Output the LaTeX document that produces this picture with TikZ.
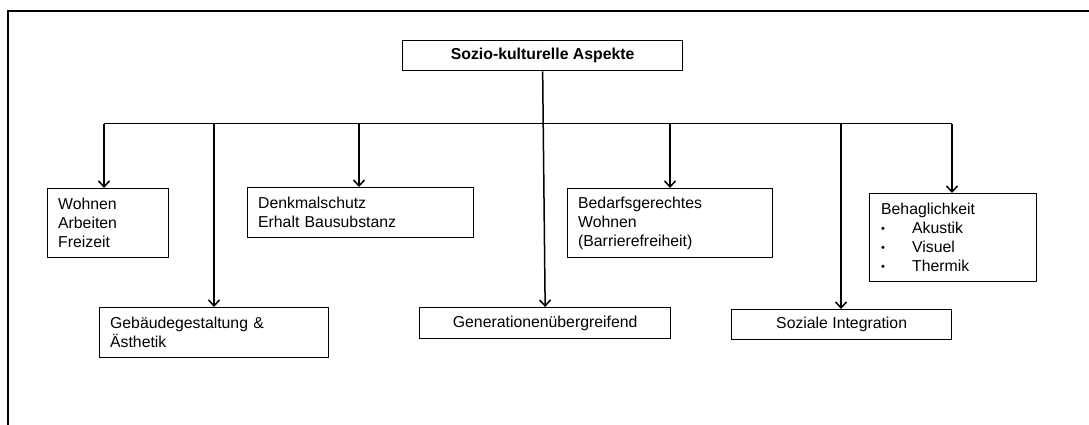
\documentclass[tikz,border=0pt]{standalone}
\usepackage{fontspec}
\setmainfont{Liberation Sans}
\usetikzlibrary{arrows.meta}
\newcommand{\mybul}{\makebox[31pt][l]{\raisebox{1.5pt}{\scalebox{0.7}{\textbullet}}}}
\begin{document}
\begin{tikzpicture}[x=1pt,y=-1pt,
  box/.style={draw, line width=1.3pt, anchor=north west, inner xsep=10.5pt, inner ysep=0pt,
    font=\fontsize{15.8}{19}\selectfont},
  arr/.style={line width=1.5pt, -{Straight Barb[length=6pt,width=11pt,line width=1.5pt]}},
  bus/.style={line width=1pt}]
\useasboundingbox (0,0) rectangle (1089,425);
% frame
\coordinate (f1) at (8,425);
\coordinate (f2) at (8,11);
\coordinate (f3) at (1089,11);
\draw[line width=1.5pt] (f1) -- (f2) -- (f3);
% nodes
\node[box, minimum width=280pt, minimum height=30pt, align=center, font=\fontsize{15.8}{19}\selectfont\bfseries] (top) at (402,40) {Sozio-kulturelle Aspekte};
\node[box, minimum width=121pt, minimum height=69pt, text width=100pt, align=left] (wohnen) at (47,188) {Wohnen\\Arbeiten\\Freizeit};
\node[box, minimum width=226pt, minimum height=50pt, text width=205pt, align=left] (denkmal) at (247,187) {Denkmalschutz\\Erhalt Bausubstanz};
\node[box, minimum width=205pt, minimum height=69pt, text width=184pt, align=left] (bedarf) at (567,188) {Bedarfsgerechtes\\Wohnen\\(Barrierefreiheit)};
\node[box, minimum width=167pt, minimum height=88pt, inner xsep=11.5pt, text width=144pt, align=left] (behag) at (869,193) {Behaglichkeit\\\mybul Akustik\\\mybul Visuel\\\mybul Thermik};
\node[box, minimum width=229pt, minimum height=50pt, text width=208pt, align=left] (gebaeude) at (99,307) {Gebäudegestaltung \&\\Ästhetik};
\node[box, minimum width=251pt, minimum height=31pt, align=center] (gen) at (419,307) {Generationenübergreifend};
\node[box, minimum width=220pt, minimum height=30pt, align=center] (sozial) at (731,309) {Soziale Integration};
% bus
\coordinate (b1) at (104,124);
\coordinate (b2) at (214,124);
\coordinate (b3) at (359,124);
\coordinate (b4) at (670,124);
\coordinate (b5) at (841,124);
\coordinate (b6) at (952,124);
\draw[bus] (b1) -- (b6);
\draw[arr] (b1) -- (b1 |- wohnen.north);
\draw[arr] (b2) -- (b2 |- gebaeude.north);
\draw[arr] (b3) -- (b3 |- denkmal.north);
\draw[arr] (b4) -- (b4 |- bedarf.north);
\draw[arr] (b5) -- (b5 |- sozial.north);
\draw[arr] (b6) -- (b6 |- behag.north);
\draw[arr] (top.south) -- (gen.north);
\end{tikzpicture}
\end{document}
